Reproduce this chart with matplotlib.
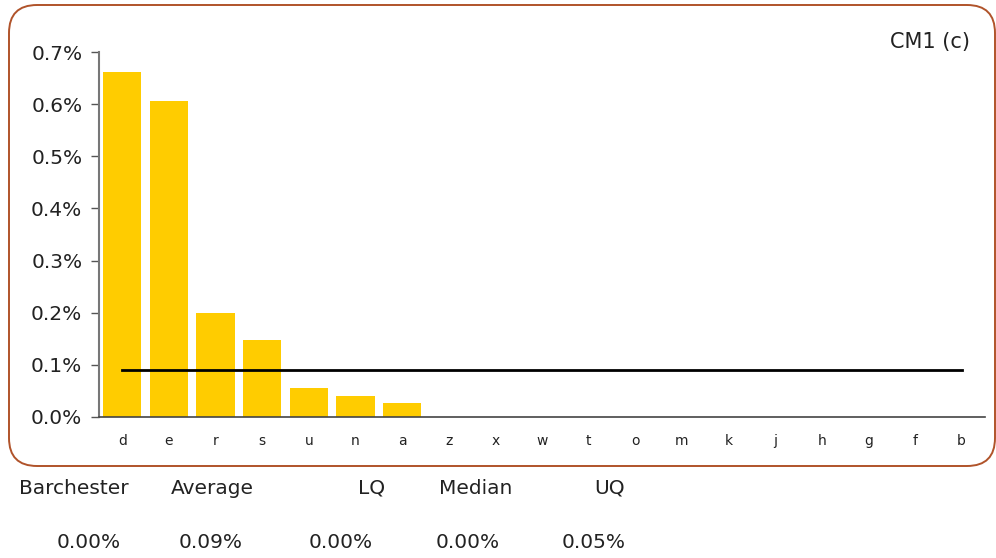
import matplotlib
matplotlib.use("Agg")
import matplotlib.pyplot as plt
from matplotlib.patches import FancyBboxPatch
from matplotlib.transforms import IdentityTransform
from matplotlib.ticker import FuncFormatter

categories = ["d", "e", "r", "s", "u", "n", "a", "z", "x", "w", "t", "o",
              "m", "k", "j", "h", "g", "f", "b"]
values = [0.662, 0.606, 0.200, 0.148, 0.056, 0.041, 0.027, 0, 0, 0, 0, 0,
          0, 0, 0, 0, 0, 0, 0]
average = 0.09

summary_names = ["Barchester", "Average", "LQ", "Median", "UQ"]
summary_values = ["0.00%", "0.09%", "0.00%", "0.00%", "0.05%"]

W, H, DPI = 996, 558, 100
fig = plt.figure(figsize=(W / DPI, H / DPI), dpi=DPI)
plt.rcParams["font.family"] = ["DejaVu Sans"]

# rounded frame around the chart area, drawn in pixel units
frame = FancyBboxPatch((9 + 28, 92 + 28), 986 - 56, 461 - 56,
                       boxstyle="round,pad=28", transform=IdentityTransform(),
                       facecolor="none", edgecolor="#B0532A", linewidth=1.4)
fig.patches.append(frame)

ax = fig.add_axes([99 / W, 1 - 417 / H, 886 / W, 365 / H])
x = list(range(len(categories)))
ax.bar(x, values, width=0.82, color="#FFCC00", zorder=2)
ax.plot([x[0], x[-1]], [average, average], color="black", lw=2, zorder=3)

ax.set_xlim(-0.5, len(categories) - 0.5)
ax.set_ylim(0, 0.7)
ax.set_yticks([i / 10 for i in range(8)])
ax.yaxis.set_major_formatter(FuncFormatter(lambda v, p: f"{v:.1f}%"))
ax.set_xticks(x)
ax.set_xticklabels(categories)
ax.tick_params(axis="x", length=0, labelsize=10, pad=12, colors="#222222")
ax.tick_params(axis="y", length=6, width=1, color="#555555", labelsize=14.5,
               pad=6, labelcolor="#222222")
for s in ("top", "right"):
    ax.spines[s].set_visible(False)
ax.spines["left"].set_color("#777777")
ax.spines["left"].set_linewidth(1.5)
ax.spines["bottom"].set_color("#444444")
ax.spines["bottom"].set_linewidth(1.2)

fig.text(970 / W, 1 - 42 / H, "CM1 (c)", ha="right", va="center",
         fontsize=15, color="#222222")

name_x = [74, 212, 372, 476, 610]
value_x = [89, 211, 341, 468, 594]
for nx_, name in zip(name_x, summary_names):
    fig.text(nx_ / W, 1 - 488 / H, name, ha="center", va="center",
             fontsize=14.5, color="#222222")
for vx, val in zip(value_x, summary_values):
    fig.text(vx / W, 1 - 543 / H, val, ha="center", va="center",
             fontsize=14.5, color="#222222")

fig.savefig("out.png", dpi=DPI)
